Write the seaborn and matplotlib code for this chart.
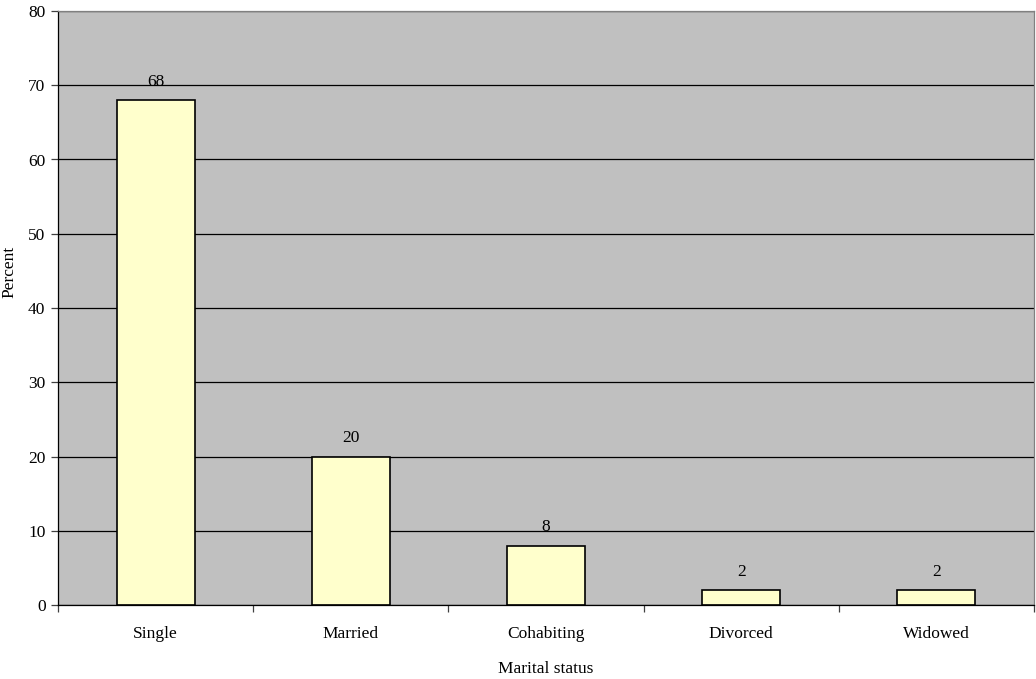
import matplotlib
matplotlib.use("Agg")
import matplotlib.pyplot as plt
import seaborn as sns
import pandas as pd

categories = ["Single", "Married", "Cohabiting", "Divorced", "Widowed"]
percent = [68, 20, 8, 2, 2]
y_ticks = [0, 10, 20, 30, 40, 50, 60, 70, 80]

sns.set_style("white")
plt.rcParams["font.family"] = ["Liberation Serif", "DejaVu Serif"]
plt.rcParams["text.color"] = "black"
plt.rcParams["axes.labelcolor"] = "black"
plt.rcParams["xtick.color"] = "black"
plt.rcParams["ytick.color"] = "black"

FS = 12.5
W, H = 1036, 679

df = pd.DataFrame({"Marital status": categories, "Percent": percent})

fig = plt.figure(figsize=(W / 100, H / 100), dpi=100)
ax = fig.add_axes([58 / W, 1 - 605 / H, (1034 - 58) / W, (605 - 11) / H])
ax.set_facecolor("#C0C0C0")

sns.barplot(data=df, x="Marital status", y="Percent", color="#FFFFCC",
            edgecolor="black", linewidth=1.2, width=0.4, saturation=1, ax=ax)

ax.set_ylim(0, 80)
ax.set_xlim(-0.5, len(categories) - 0.5)
ax.set_yticks(y_ticks)
ax.set_yticklabels([str(v) for v in y_ticks], fontsize=FS)
ax.yaxis.grid(True, color="black", linewidth=0.9)
ax.set_axisbelow(True)

# category labels centred under bars, tick marks at the boundaries
ax.set_xticks(range(len(categories)))
ax.set_xticklabels(categories, fontsize=FS)
ax.tick_params(axis="x", which="major", bottom=True, length=0, pad=15)
ax.set_xticks([i - 0.5 for i in range(len(categories) + 1)], minor=True)
ax.tick_params(axis="x", which="minor", bottom=True, direction="out",
               length=5, width=0.9, color="#404040")
ax.tick_params(axis="y", which="major", left=True, direction="out",
               length=5, width=0.9, color="#404040", pad=4)

for side in ["top", "right"]:
    ax.spines[side].set_color("#808080")
    ax.spines[side].set_linewidth(0.9)
for side in ["left", "bottom"]:
    ax.spines[side].set_color("black")
    ax.spines[side].set_linewidth(0.9)

for i, v in enumerate(percent):
    ax.text(i, v + 1.4, str(v), ha="center", va="bottom", fontsize=FS)

# axis titles placed in figure coordinates
ax.set_xlabel("")
ax.set_ylabel("")
fig.text((58 + 1034) / 2 / W, 1 - 673 / H, "Marital status",
         ha="center", va="baseline", fontsize=FS)
fig.text(9 / W, 1 - 272 / H, "Percent", rotation=90,
         ha="center", va="center", fontsize=FS)

fig.savefig("out.png", dpi=100)
